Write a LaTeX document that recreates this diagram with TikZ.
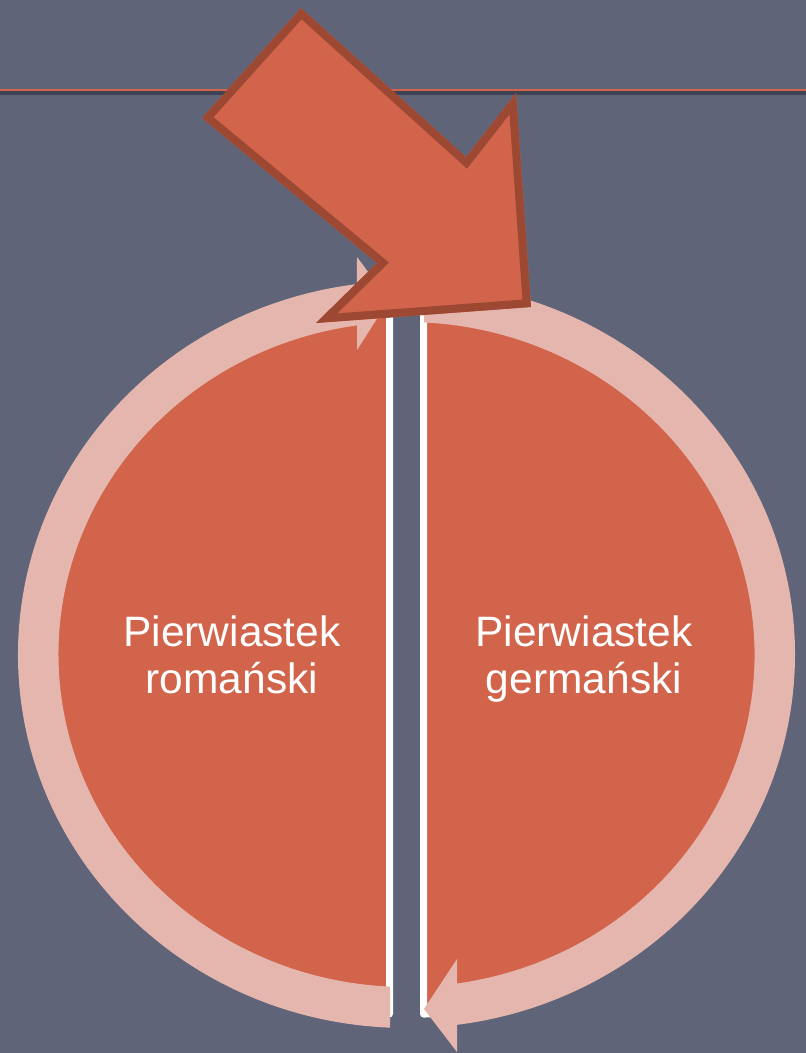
\documentclass[tikz,border=0pt]{standalone}
\usepackage{fontspec}
\setmainfont{Liberation Sans}
\definecolor{bg}{HTML}{5F6478}
\definecolor{orng}{HTML}{D1644A}
\definecolor{pinkc}{HTML}{E5B6AE}
\definecolor{arrowline}{HTML}{9C4833}
\definecolor{shadowc}{HTML}{3E4252}
\begin{document}
\begin{tikzpicture}[x=1pt,y=-1pt,
  halfshape/.style={fill=orng, draw=white, line width=7pt, line join=round},
  ringarc/.style={fill=pinkc},
  lbl/.style={text=white, font=\fontsize{42.5}{47}\selectfont, align=center, anchor=north, inner sep=0pt}]
\fill[bg] (0,0) rectangle (806,1053);
\useasboundingbox (0,0) rectangle (806,1053);
% top rule
\fill[orng] (0,88.5) rectangle (806,91);
\fill[shadowc] (0,91) rectangle (806,94.5);
% two halves
\path[halfshape] (389.5,295) arc[start angle=270, end angle=90, x radius=345, y radius=359.5] -- cycle;
\path[halfshape] (423.5,295) arc[start angle=-90, end angle=90, x radius=345, y radius=359.5] -- cycle;
% circular arrows
\path[ringarc] (390,1027.66) arc[start angle=92.43, end angle=262.68, x radius=388.5, y radius=373.5]
  -- (357,257) -- (389,300) -- (357,350) -- (357,325.4)
  arc[start angle=261.82, end angle=92.72, x radius=348, y radius=332.5] -- cycle;
\path[ringarc] (424,281.4) arc[start angle=272.58, end angle=442.53, x radius=388.5, y radius=373.5]
  -- (457,1052) -- (424,1009) -- (457,959) -- (457,983.5)
  arc[start angle=441.66, end angle=272.88, x radius=348, y radius=332.5] -- cycle;
% labels
\node[lbl] (rom) at (232,615) {Pierwiastek\\romański};
\node[lbl] (ger) at (584,615) {Pierwiastek\\germański};
% big arrow
\coordinate (a1) at (301,8);
\coordinate (a2) at (202,118);
\coordinate (a3) at (377,263);
\coordinate (a4) at (316,323);
\coordinate (a5) at (531,307);
\coordinate (a6) at (516,93);
\coordinate (a7) at (466,157);
\fill[orng] (a1) -- (a2) -- (a3) -- (a4) -- (a5) -- (a6) -- (a7) -- cycle;
\begin{scope}
  \clip (a1) -- (a2) -- (a3) -- (a4) -- (a5) -- (a6) -- (a7) -- cycle;
  \draw[arrowline, line width=16pt, line join=miter] (a1) -- (a2) -- (a3) -- (a4) -- (a5) -- (a6) -- (a7) -- cycle;
\end{scope}
\end{tikzpicture}
\end{document}
